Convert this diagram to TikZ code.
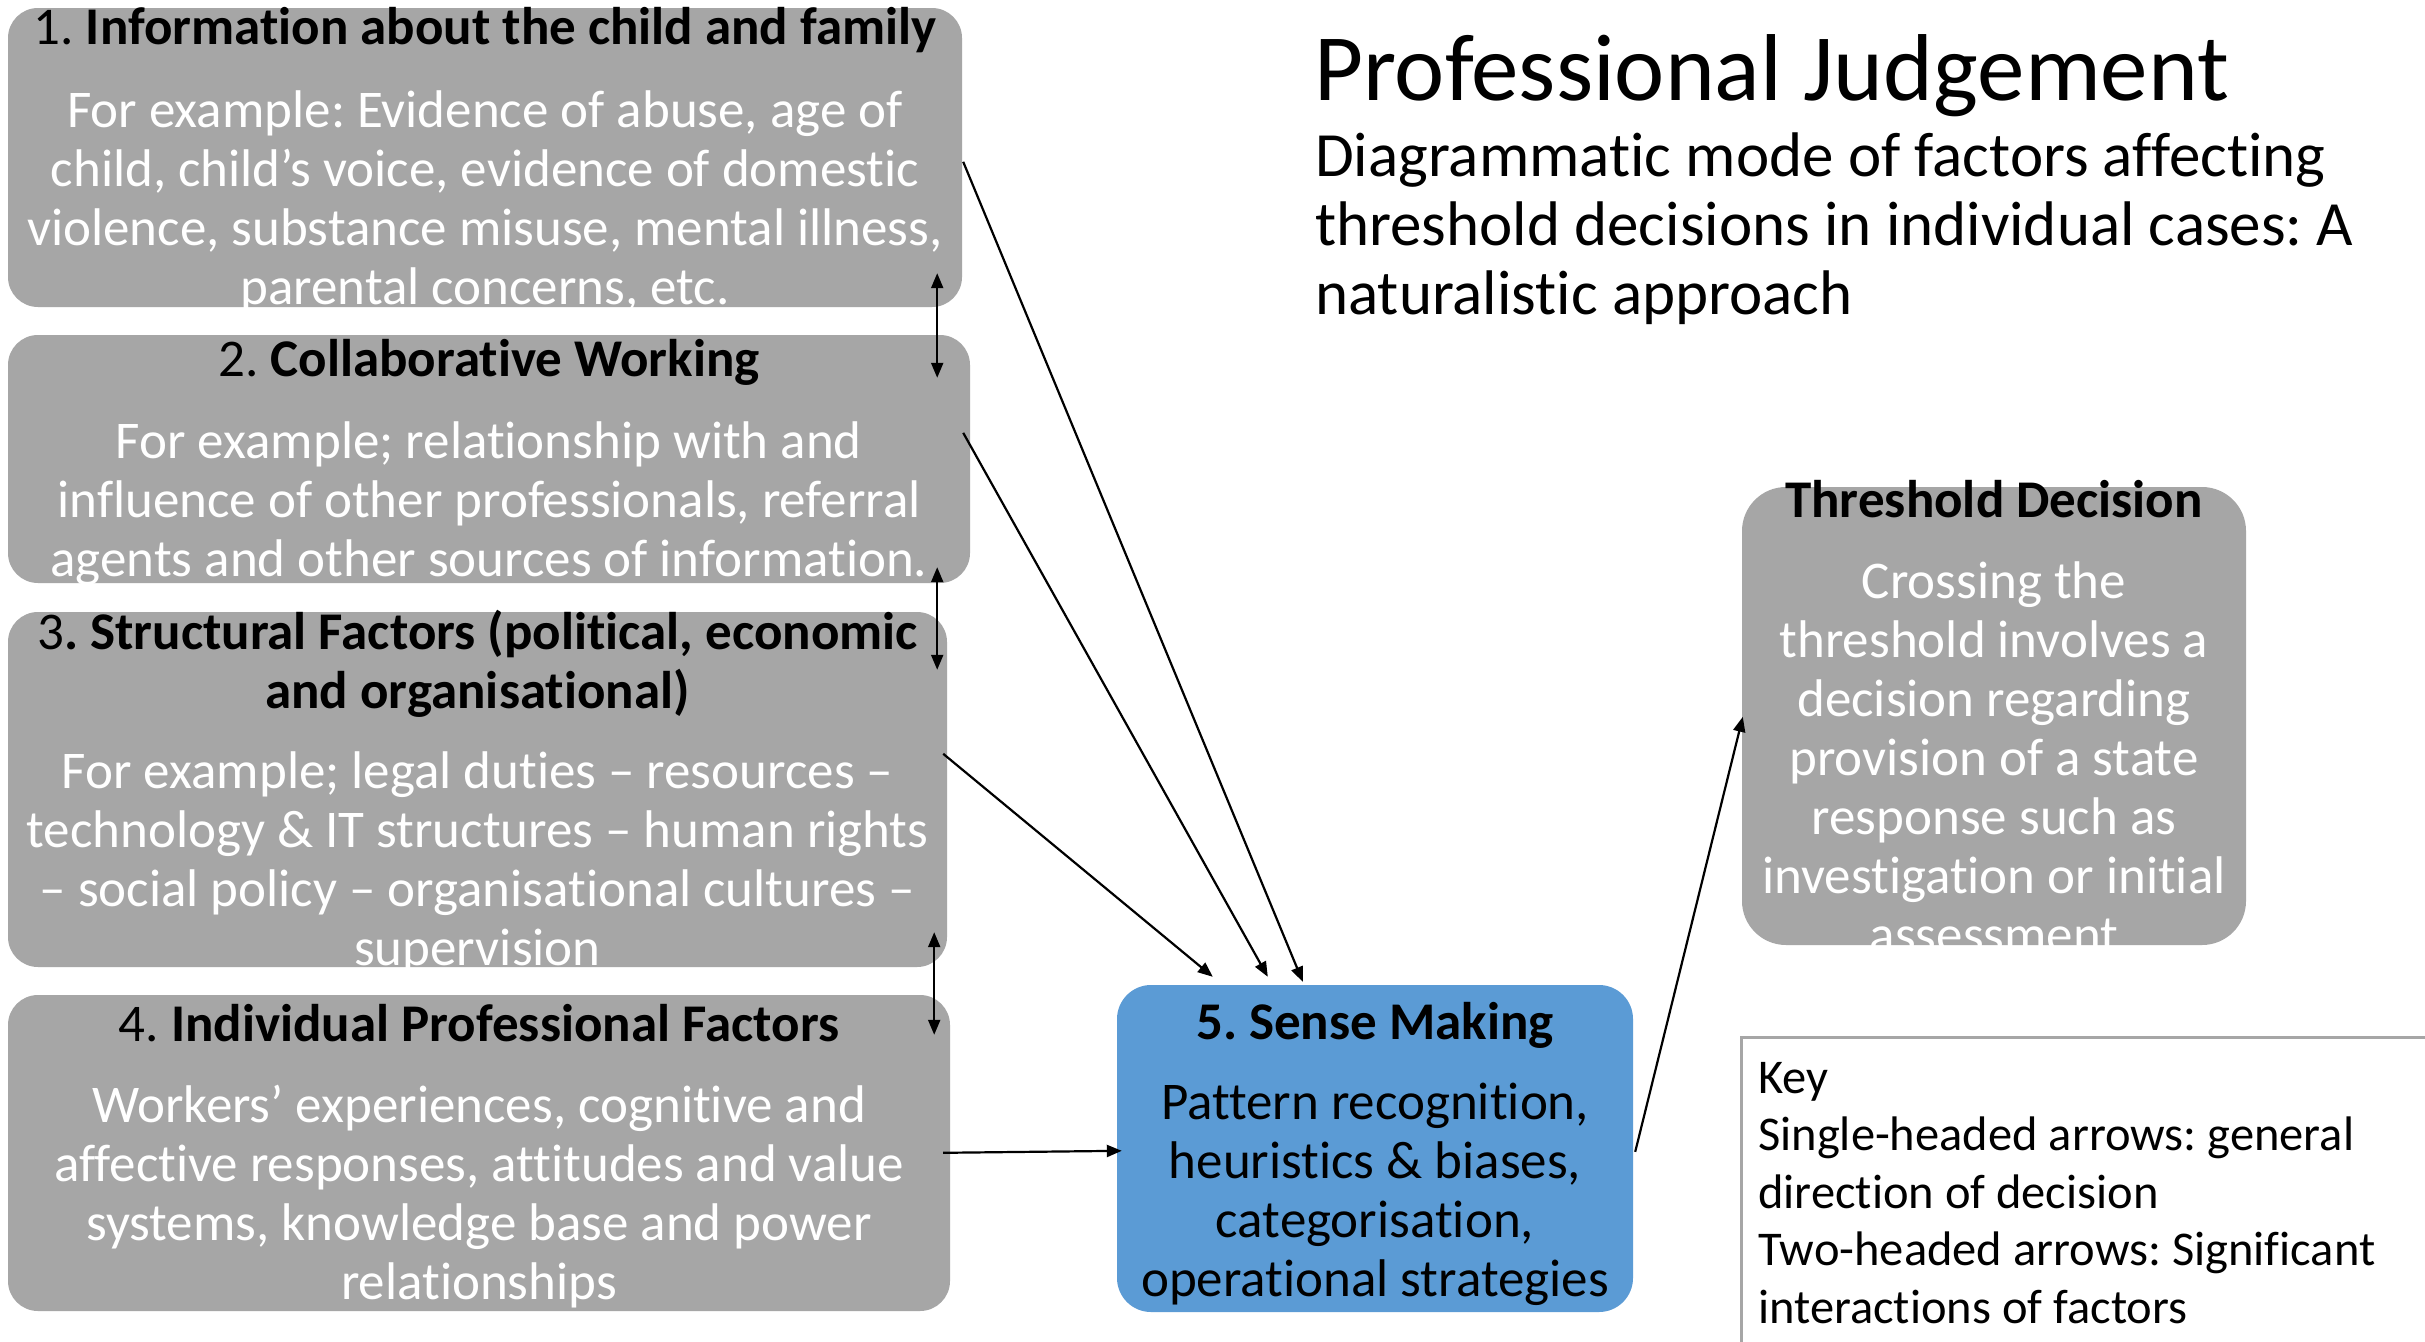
\documentclass[tikz,border=0pt]{standalone}
\usepackage{fontspec}
\setmainfont{Carlito}[Ligatures=CommonOff]
\usetikzlibrary{arrows.meta,calc}
\definecolor{boxgray}{HTML}{A6A6A6}
\definecolor{senseblue}{HTML}{5B9BD5}
\definecolor{keygray}{HTML}{A6A6A6}
\frenchspacing
\begin{document}
\begin{tikzpicture}[x=1pt,y=-1pt,
  factorbox/.style={fill=boxgray, draw=none, rounded corners=30pt, inner sep=0pt},
  sensebox/.style={fill=senseblue, draw=none, rounded corners=34pt, inner sep=0pt},
  decisionbox/.style={fill=boxgray, draw=none, rounded corners=44pt, inner sep=0pt},
  boxtext/.style={anchor=north, align=center, inner sep=0pt, font=\fontsize{53}{59}\selectfont},
  keytext/.style={anchor=north west, align=left, inner sep=0pt, font=\fontsize{48.5}{57.5}\selectfont},
  arr/.style={line width=2.2pt, -{Triangle[length=15pt,width=12pt]}},
  biarr/.style={line width=2.2pt, {Triangle[length=15pt,width=12pt]}-{Triangle[length=15pt,width=12pt]}}]

\useasboundingbox (0,0) rectangle (2425,1341);
\fill[white] (0,0) rectangle (2425,1341);

% factor boxes
\node[factorbox, minimum width=954pt, minimum height=299pt] (b1) at (485,157.5) {};
\node[factorbox, minimum width=962pt, minimum height=248pt] (b2) at (489,459) {};
\node[factorbox, minimum width=939pt, minimum height=355pt] (b3) at (477.5,789.5) {};
\node[factorbox, minimum width=942pt, minimum height=316pt] (b4) at (479,1153) {};
\node[sensebox, minimum width=516pt, minimum height=327pt] (b5) at (1375,1148.5) {};
\node[decisionbox, minimum width=504pt, minimum height=458pt] (th) at (1994,716) {};

% key frame
\node[draw=keygray, line width=3pt, anchor=north west, minimum width=720pt, minimum height=340pt, inner sep=0pt] (key) at (1740,1036) {};

% box texts
\node[boxtext] (t1) at (485,2.5) {\strut 1. \textbf{Information about the child and family}\\[24pt]
  \color{white}For example: Evidence of abuse, age of\\
  \color{white}child, child’s voice, evidence of domestic\\
  \color{white}violence, substance misuse, mental illness,\\
  \color{white}parental concerns, etc.};
\node[boxtext] (t2) at (489,334.7) {\strut 2. \textbf{Collaborative Working}\\[23pt]
  \color{white}For example; relationship with and\\
  \color{white}influence of other professionals, referral\\
  \color{white}agents and other sources of information.};
\node[boxtext] (t3) at (477.5,607.5) {\strut 3\textbf{. Structural Factors (political, economic}\\
  \textbf{and organisational)}\\[21.5pt]
  \color{white}For example; legal duties – resources –\\
  \color{white}technology \& IT structures – human rights\\
  \color{white}– social policy – organisational cultures –\\
  \color{white}supervision};
\node[boxtext] (t4) at (479,1000) {\strut 4. \textbf{Individual Professional Factors}\\[22pt]
  \color{white}Workers’ experiences, cognitive and\\
  \color{white}affective responses, attitudes and value\\
  \color{white}systems, knowledge base and power\\
  \color{white}relationships};
\node[boxtext] (t5) at (1375,997.5) {\strut\textbf{5. Sense Making}\\[21pt]
  Pattern recognition,\\
  heuristics \& biases,\\
  categorisation,\\
  operational strategies};
\node[boxtext] (tt) at (1994,475.5) {\strut\textbf{Threshold Decision}\\[22pt]
  \color{white}Crossing the\\
  \color{white}threshold involves a\\
  \color{white}decision regarding\\
  \color{white}provision of a state\\
  \color{white}response such as\\
  \color{white}investigation or initial\\
  \color{white}assessment};

% title block
\node[anchor=base west, inner sep=0pt, font=\fontsize{95}{100}\selectfont] (title) at (1314,100) {Professional Judgement};
\node[anchor=north west, align=left, inner sep=0pt, font=\fontsize{63}{69}\selectfont] (subtitle) at (1315,127.7)
  {\strut Diagrammatic mode of factors affecting\\
   threshold decisions in individual cases: A\\
   naturalistic approach};

% key text
\node[keytext] (keytxt) at (1758,1053) {\strut Key\\
  Single-headed arrows: general\\
  direction of decision\\
  Two-headed arrows: Significant\\
  interactions of factors};

% single-headed arrows towards sense making
\draw[arr] ($(b1.north east)+(1,154)$) -- ($(b5.north west)+(186,-3)$);
\draw[arr] ($(b2.north east)+(-7,98)$) -- ($(b5.north west)+(151,-8)$);
\draw[arr] ($(b3.north east)+(-4,142)$) -- ($(b5.north west)+(96,-8)$);
\draw[arr] ($(b4.north east)+(-7,158)$) -- ($(b5.north west)+(5,166)$);
\draw[arr] ($(b5.north east)+(2,167)$) -- ($(th.north west)+(1,230)$);

% two-headed arrows between neighbouring factors
\draw[biarr] ($(b1.south east)+(-25,-34)$) -- ($(b2.north east)+(-33,43)$);
\draw[biarr] ($(b2.south east)+(-33,-16)$) -- ($(b3.north east)+(-10,58)$);
\draw[biarr] ($(b3.south east)+(-13,-35)$) -- ($(b4.north east)+(-16,40)$);
\end{tikzpicture}
\end{document}
